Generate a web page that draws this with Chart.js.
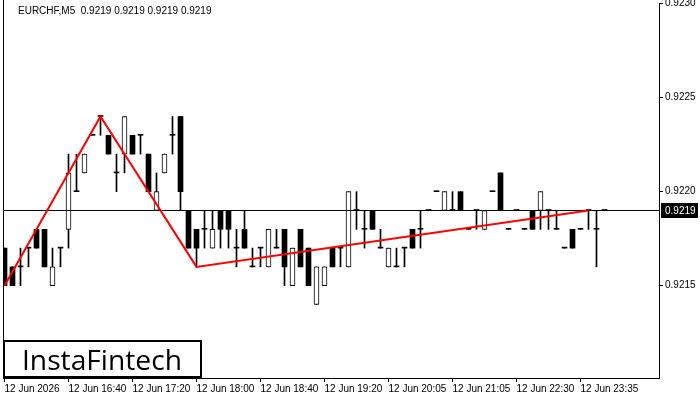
<!DOCTYPE html>
<html>
<head>
<meta charset="utf-8">
<script src="https://cdn.jsdelivr.net/npm/chart.js@4.4.1/dist/chart.umd.min.js"></script>
<style>
  html, body { margin: 0; padding: 0; background: #fff; }
  #wrap { width: 700px; height: 400px; }
</style>
</head>
<body>
<div id="wrap"><canvas id="myChart"></canvas></div>
<script>
// EURCHF M5, one entry per bar
const opens = [0.9217,0.9216,0.9216,0.9217,0.9218,0.9218,0.9215,0.9217,0.9218,0.9220,
  0.9221,0.9223,0.9224,0.9223,0.9221,0.9222,0.9223,0.9223,0.9222,0.9219,
  0.9221,0.9223,0.9224,0.9219,0.9218,0.9218,0.9217,0.9219,0.9219,0.9217,
  0.9218,0.9216,0.9217,0.9216,0.9217,0.9218,0.9215,0.9218,0.9217,0.9214,
  0.9215,0.9217,0.9217,0.9216,0.9219,0.9218,0.9219,0.9217,0.9216,0.9216,
  0.9217,0.9218,0.9218,0.9219,0.9220,0.9219,0.9219,0.9220,0.9218,0.9219,
  0.9218,0.9220,0.9221,0.9218,0.9219,0.9218,0.9219,0.9219,0.9219,0.9218,
  0.9217,0.9218,0.9218,0.9219,0.9218,0.9219];
const highs = [0.9217,0.9216,0.9217,0.9217,0.9218,0.9218,0.9217,0.9217,0.9222,0.9222,
  0.9222,0.9223,0.9224,0.9223,0.9222,0.9224,0.9223,0.9223,0.9222,0.9221,
  0.9222,0.9224,0.9224,0.9219,0.9218,0.9219,0.9219,0.9219,0.9219,0.9218,
  0.9219,0.9217,0.9217,0.9218,0.9218,0.9218,0.9217,0.9218,0.9217,0.9216,
  0.9216,0.9217,0.9217,0.9220,0.9220,0.9219,0.9219,0.9218,0.9217,0.9217,
  0.9217,0.9218,0.9219,0.9219,0.9220,0.9220,0.9220,0.9220,0.9218,0.9219,
  0.9219,0.9220,0.9221,0.9218,0.9219,0.9218,0.9219,0.9220,0.9219,0.9219,
  0.9217,0.9218,0.9218,0.9219,0.9219,0.9219];
const lows = [0.9215,0.9215,0.9215,0.9216,0.9217,0.9216,0.9215,0.9216,0.9217,0.9220,
  0.9221,0.9223,0.9223,0.9222,0.9220,0.9221,0.9222,0.9222,0.9220,0.9219,
  0.9221,0.9222,0.9219,0.9217,0.9216,0.9217,0.9217,0.9217,0.9217,0.9216,
  0.9217,0.9216,0.9216,0.9216,0.9217,0.9215,0.9215,0.9216,0.9215,0.9214,
  0.9215,0.9216,0.9216,0.9216,0.9218,0.9217,0.9218,0.9217,0.9216,0.9216,
  0.9216,0.9217,0.9217,0.9219,0.9220,0.9219,0.9219,0.9219,0.9218,0.9218,
  0.9218,0.9220,0.9219,0.9218,0.9219,0.9218,0.9218,0.9218,0.9218,0.9218,
  0.9217,0.9217,0.9218,0.9218,0.9216,0.9219];
const closes = [0.9215,0.9215,0.9216,0.9217,0.9217,0.9216,0.9216,0.9217,0.9221,0.9220,
  0.9222,0.9223,0.9224,0.9222,0.9221,0.9224,0.9222,0.9223,0.9220,0.9220,
  0.9222,0.9223,0.9220,0.9217,0.9217,0.9218,0.9218,0.9218,0.9218,0.9217,
  0.9217,0.9216,0.9217,0.9218,0.9217,0.9216,0.9217,0.9216,0.9215,0.9216,
  0.9216,0.9216,0.9217,0.9220,0.9219,0.9218,0.9218,0.9217,0.9217,0.9216,
  0.9217,0.9217,0.9218,0.9219,0.9220,0.9220,0.9219,0.9219,0.9218,0.9219,
  0.9219,0.9220,0.9219,0.9218,0.9219,0.9218,0.9218,0.9220,0.9219,0.9218,
  0.9217,0.9217,0.9218,0.9219,0.9218,0.9219];

// time axis labels (every 8th bar)
const tickIdx = [0, 8, 16, 24, 32, 40, 48, 56, 64, 72];
const tickLabels = ["12 Jun 2026", "12 Jun 16:40", "12 Jun 17:20", "12 Jun 18:00", "12 Jun 18:40",
  "12 Jun 19:20", "12 Jun 20:05", "12 Jun 21:05", "12 Jun 22:30", "12 Jun 23:35"];
const yTicks = [0.9215, 0.9220, 0.9225, 0.9230];

// red pattern line
const patternIdx = [0, 12, 24, 73];
const patternPrice = [0.9215, 0.9224, 0.9216, 0.9219];

const title = "EURCHF,M5  0.9219 0.9219 0.9219 0.9219";
const lastPrice = closes[closes.length - 1];

const xMin = -0.1875, xMax = 81.8125;
// range picked so the last price sits on a whole pixel row
const yMax = 0.92300372, yMin = 0.92100904;

const idx = opens.map((o, i) => i);
const wickData = idx.map(i => ({ x: i, y: [lows[i], highs[i]] }));
const bullData = idx.filter(i => closes[i] > opens[i]).map(i => ({ x: i, y: [opens[i], closes[i]] }));
const bearData = idx.filter(i => closes[i] < opens[i]).map(i => ({ x: i, y: [closes[i], opens[i]] }));
const dojiData = idx.filter(i => closes[i] === opens[i]).map(i => ({ x: i, y: [opens[i], closes[i]] }));

Chart.defaults.font.family = '"Liberation Sans", Arial, sans-serif';
Chart.defaults.font.size = 10;
Chart.defaults.color = "#000";

const decor = {
  id: "decor",
  afterDraw(chart) {
    const { ctx, chartArea: a, scales: { y } } = chart;
    ctx.save();
    ctx.strokeStyle = "#000";
    ctx.lineWidth = 1;
    ctx.beginPath();
    ctx.moveTo(a.left + 0.5, 0);
    ctx.lineTo(a.left + 0.5, a.bottom);
    ctx.stroke();

    ctx.fillStyle = "#000";
    ctx.font = '10px "Liberation Sans", Arial, sans-serif';
    ctx.textBaseline = "middle";
    ctx.fillText(title, 18, 11);

    // current price tag
    const py = Math.floor(y.getPixelForValue(lastPrice));
    ctx.fillRect(a.right + 2, py - 7, 37, 15);
    ctx.fillStyle = "#fff";
    ctx.fillText(lastPrice.toFixed(4), a.right + 6, py + 1);

    // logo box
    ctx.fillStyle = "#fff";
    ctx.fillRect(a.left, 340, 198, 38);
    ctx.lineWidth = 2;
    ctx.strokeRect(a.left + 1, 341, 197, 36);
    ctx.fillStyle = "#000";
    ctx.font = '28px "Open Sans", sans-serif';
    const w = ctx.measureText("InstaFintech").width;
    ctx.font = (28 * 160 / w).toFixed(1) + 'px "Open Sans", sans-serif';
    ctx.textBaseline = "alphabetic";
    ctx.fillText("InstaFintech", 22, 370);
    ctx.restore();
  }
};

const ctx = document.getElementById("myChart").getContext("2d");

new Chart(ctx, {
  type: "bar",
  data: {
    datasets: [
      {
        type: "line",
        data: patternIdx.map((v, i) => ({ x: v, y: patternPrice[i] })),
        borderColor: "#ff0000",
        borderWidth: 2,
        pointRadius: 0,
        tension: 0,
        order: 0,
      },
      {
        type: "line",
        data: [{ x: xMin, y: lastPrice }, { x: xMax, y: lastPrice }],
        borderColor: "#000",
        borderWidth: 1,
        pointRadius: 0,
        order: 1,
      },
      {
        data: bullData,
        backgroundColor: "#fff",
        borderColor: "#000",
        borderWidth: 1,
        borderSkipped: false,
        barThickness: 5,
        grouped: false,
        order: 2,
      },
      {
        data: bearData,
        backgroundColor: "#000",
        borderWidth: 0,
        barThickness: 5,
        grouped: false,
        order: 2,
      },
      {
        data: dojiData,
        backgroundColor: "#000",
        borderWidth: 0,
        barThickness: 5,
        minBarLength: 1,
        grouped: false,
        order: 2,
      },
      {
        data: wickData,
        backgroundColor: "#000",
        borderWidth: 0,
        barThickness: 1,
        grouped: false,
        order: 3,
      },
    ],
  },
  options: {
    responsive: true,
    maintainAspectRatio: false,
    animation: false,
    layout: { padding: { left: 3, top: 3, right: 0, bottom: 0 } },
    plugins: {
      legend: { display: false },
      tooltip: { enabled: false },
    },
    scales: {
      x: {
        type: "linear",
        min: xMin,
        max: xMax,
        offset: false,
        afterBuildTicks: (s) => { s.ticks = tickIdx.map(v => ({ value: v })); },
        afterFit: (s) => { s.height = 22; s.paddingLeft = 0; s.paddingRight = 0; },
        ticks: {
          autoSkip: false,
          maxRotation: 0,
          align: "start",
          padding: 1,
          callback: (v, i) => tickLabels[i],
        },
        grid: { drawOnChartArea: false, offset: false, tickLength: 4, color: "#000" },
        border: { color: "#000" },
      },
      y: {
        type: "linear",
        position: "right",
        min: yMin,
        max: yMax,
        afterBuildTicks: (s) => { s.ticks = yTicks.map(v => ({ value: v })); },
        afterFit: (s) => { s.width = 41; s.paddingTop = 0; s.paddingBottom = 0; },
        ticks: {
          padding: 2,
          callback: (v) => Number(v).toFixed(4),
        },
        grid: { drawOnChartArea: false, tickLength: 4, color: "#000" },
        border: { color: "#000" },
      },
    },
  },
  plugins: [decor],
});
</script>
</body>
</html>
